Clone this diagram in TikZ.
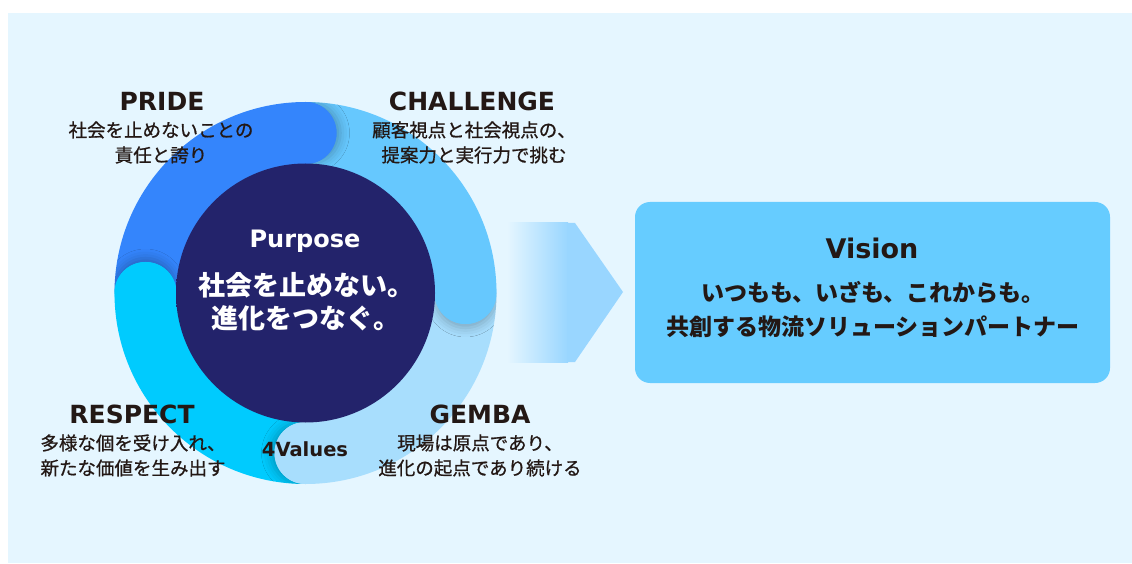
\documentclass[tikz,border=0pt]{standalone}
\usepackage{fontspec}
\setmainfont{DejaVu Sans}
\newfontfamily\jp{Noto Sans CJK JP}
\newfontfamily\jpsub{Noto Sans CJK JP}[FakeBold=0.8]
\usetikzlibrary{shadows.blur}
\definecolor{bg}{HTML}{E5F6FF}
\definecolor{pridec}{HTML}{3485FC}
\definecolor{challc}{HTML}{66C8FE}
\definecolor{gembac}{HTML}{A8DEFD}
\definecolor{respc}{HTML}{00CBFE}
\definecolor{navy}{HTML}{23236B}
\definecolor{navyd}{HTML}{16164A}
\definecolor{arrowc}{HTML}{99D6FF}
\definecolor{boxc}{HTML}{66CCFF}
\definecolor{ink}{HTML}{231815}
\pgfdeclareradialshading{innershade}{\pgfpoint{0bp}{0bp}}{color(0bp)=(navy); color(45bp)=(navy); color(50bp)=(navyd); color(100bp)=(navyd)}
\tikzset{
  head/.style={font=\bfseries\fontsize{25}{30}\selectfont, text=ink, inner sep=0pt},
  sub/.style={font=\jpsub\fontsize{18.5}{25}\selectfont, text=ink, align=center, inner sep=0pt},
  seg/.style={line width=62pt},
  capsh/.style 2 args={blur shadow={shadow xshift=#1, shadow yshift=#2, shadow blur radius=9pt, shadow opacity=25}},
}
\begin{document}
\begin{tikzpicture}[x=1pt,y=1pt]
\useasboundingbox (0,0) rectangle (1132,563);
\fill[white] (0,0) rectangle (1132,563);
\fill[bg] (8,0) rectangle (1132,550);
\coordinate (C) at (305.5,270);
% ring segments
\draw[seg, pridec] ([shift={(180:160)}]C) arc[start angle=180, end angle=90, radius=160];
\draw[seg, challc] ([shift={(90:160)}]C) arc[start angle=90, end angle=0, radius=160];
\draw[seg, gembac] ([shift={(0:160)}]C) arc[start angle=0, end angle=-90, radius=160];
\draw[seg, respc] ([shift={(-90:160)}]C) arc[start angle=-90, end angle=-180, radius=160];
% soft shadows ahead of each rounded head
\begin{scope}
\clip (C) circle (191);
\begin{scope}
\clip (305.5,0) rectangle (700,563);
\fill[pridec, capsh={4pt}{0pt}] ([shift={(90:160)}]C) circle (31);
\end{scope}
\begin{scope}
\clip (0,0) rectangle (700,270);
\fill[challc, capsh={0pt}{-4pt}] ([shift={(0:160)}]C) circle (31);
\end{scope}
\begin{scope}
\clip (0,0) rectangle (305.5,563);
\fill[gembac, capsh={-4pt}{0pt}] ([shift={(-90:160)}]C) circle (31);
\end{scope}
\begin{scope}
\clip (0,270) rectangle (700,563);
\fill[respc, capsh={0pt}{4pt}] ([shift={(180:160)}]C) circle (31);
\end{scope}
\end{scope}
% rounded heads
\fill[pridec] ([shift={(90:160)}]C) circle (31);
\fill[challc] ([shift={(0:160)}]C) circle (31);
\fill[gembac] ([shift={(-90:160)}]C) circle (31);
\fill[respc] ([shift={(180:160)}]C) circle (31);
% purpose circle
\node[circle, minimum size=259pt, inner sep=0pt, shading=innershade] (purpose) at (C) {};
\node[font=\bfseries\fontsize{24}{28}\selectfont, text=white, inner sep=0pt] (ptitle) at (305,322) {Purpose};
\node[font=\jp\bfseries\fontsize{27}{33}\selectfont, text=white, align=center, inner sep=0pt] (ptext) at (306,261.5) {社会を止めない。\\進化をつなぐ。};
% values
\node[head] (pride) at (162,462) {PRIDE};
\node[sub] (prides) at (161,420.5) {社会を止めないことの\\責任と誇り};
\node[head] (chall) at (472,462) {CHALLENGE};
\node[sub] (challs) at (474,420.5) {顧客視点と社会視点の、\\提案力と実行力で挑む};
\node[head] (resp) at (132,149) {RESPECT};
\node[sub] (resps) at (133,107.5) {多様な個を受け入れ、\\新たな価値を生み出す};
\node[head] (gemba) at (480,149) {GEMBA};
\node[sub] (gembas) at (480,107.5) {現場は原点であり、\\進化の起点であり続ける};
\node[font=\bfseries\fontsize{19.5}{24}\selectfont, text=ink, inner sep=0pt] (four) at (305,114) {4Values};
% arrow
\shade[left color=bg, right color=arrowc] (507,201) rectangle (568,340);
\fill[arrowc] (567,340) -- (575,340) -- (623,271) -- (575,201) -- (567,201) -- cycle;
% vision
\node[fill=boxc, rounded corners=15pt, minimum width=475pt, minimum height=181pt, inner sep=0pt] (vision) at (872.5,270.5) {};
\node[font=\bfseries\fontsize{27}{32}\selectfont, text=ink, inner sep=0pt] (vtitle) at (872,315) {Vision};
\node[font=\jp\bfseries\fontsize{23}{34}\selectfont, text=ink, align=center, inner sep=0pt] (vtext) at (873,254) {いつもも、いざも、これからも。\\共創する物流ソリューションパートナー};
\end{tikzpicture}
\end{document}
